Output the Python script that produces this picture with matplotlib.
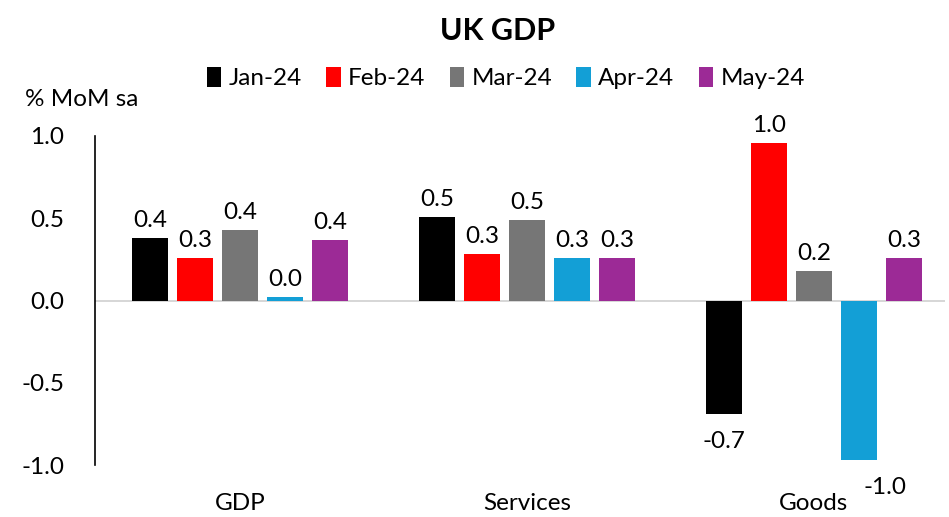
import numpy as np
import matplotlib.pyplot as plt

plt.rcParams["font.family"] = ["Lato", "DejaVu Sans"]

categories = ["GDP", "Services", "Goods"]
months = ["Jan-24", "Feb-24", "Mar-24", "Apr-24", "May-24"]
colors = ["#000000", "#ff0000", "#767676", "#139fd6", "#9c2a96"]
values = {
    "Jan-24": [0.38, 0.51, -0.69],
    "Feb-24": [0.26, 0.28, 0.96],
    "Mar-24": [0.43, 0.49, 0.18],
    "Apr-24": [0.02, 0.26, -0.97],
    "May-24": [0.37, 0.26, 0.26],
}

fig = plt.figure(figsize=(9.49, 5.17), dpi=100)
ax = fig.add_axes([95 / 949, 52 / 517, 850 / 949, 329 / 517])

x = np.arange(len(categories))
width, step = 0.125, 0.157
for i, (m, c) in enumerate(zip(months, colors)):
    vals = values[m]
    bars = ax.bar(x + (i - 2) * step, vals, width, color=c, label=m, zorder=2)
    for b, v in zip(bars, vals):
        xc = b.get_x() + b.get_width() / 2
        if v >= 0:
            ax.annotate(f"{v:.1f}", (xc, v), xytext=(0, 5), textcoords="offset points",
                        ha="center", va="bottom", fontsize=17.5)
        else:
            dx = 19 if v < -0.9 else 0
            ax.annotate(f"{v:.1f}", (xc, v), xytext=(dx, -12), textcoords="offset points",
                        ha="center", va="top", fontsize=17.5)

ax.axhline(0, color="#d0d0d0", lw=1.2, zorder=1)
ax.set_xlim(-0.505, 2.457)
ax.set_ylim(-1.0, 1.0)
ticks = [-1.0, -0.5, 0.0, 0.5, 1.0]
ax.set_yticks(ticks)
ax.set_yticklabels([f"{t:.1f}" for t in ticks], fontsize=17.5)
ax.set_xticks(x)
ax.set_xticklabels(categories, fontsize=17.5)
ax.tick_params(axis="y", length=0, pad=22)
ax.tick_params(axis="x", length=0, pad=20)
for s in ["top", "right", "bottom"]:
    ax.spines[s].set_visible(False)
ax.spines["left"].set_color("#000000")
ax.spines["left"].set_linewidth(1.2)

fig.text(0.524, 0.94, "UK GDP", ha="center", va="center", fontsize=22, fontweight="bold")
fig.text(25 / 949, 1 - 100 / 517, "% MoM sa", ha="left", va="center", fontsize=17.5)
fig.legend(loc="center", bbox_to_anchor=(0.533, 1 - 78 / 517), ncol=5, frameon=False,
           fontsize=17.5, handlelength=0.6, handleheight=0.9, handletextpad=0.3,
           columnspacing=1.0)

fig.savefig("out.png", dpi=100)
